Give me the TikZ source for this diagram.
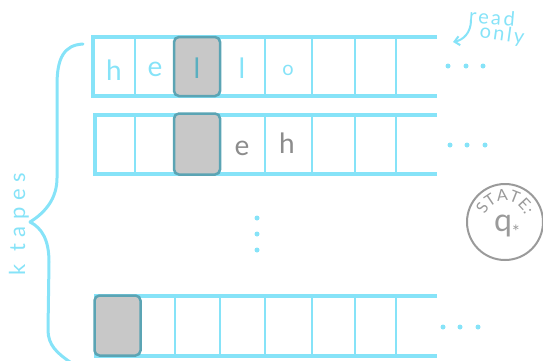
\documentclass[tikz,border=0pt]{standalone}
\usepackage{fontspec}
\setmainfont{Lato}
\usetikzlibrary{decorations.text,arrows.meta}
\definecolor{tapec}{HTML}{86E3F8}
\definecolor{headfill}{HTML}{C8C8C8}
\definecolor{headline}{HTML}{5BA4B4}
\definecolor{grayt}{HTML}{8C8C8C}
\definecolor{statec}{HTML}{9A9A9A}
\definecolor{tealt}{HTML}{5AAFC0}
\begin{document}
\begin{tikzpicture}[x=1pt,y=-1pt,
  tapeline/.style={draw=tapec,line width=3.3pt},
  divline/.style={draw=tapec,line width=2.2pt},
  headbox/.style={draw=headline,fill=headfill,line width=2.5pt,rounded corners=5pt,inner sep=0pt},
  sym/.style={font=\fontsize{28}{28}\selectfont,anchor=base,inner sep=0pt},
  dotc/.style={circle,fill=tapec,inner sep=0pt,minimum size=5pt},
  handlbl/.style={text=tapec,inner sep=0pt},
]
\useasboundingbox (0,0) rectangle (543,360);
% tapes
\foreach \t/\b/\l in {37/96/93, 115/174/95, 296/356/96} {
  \draw[tapeline] (437,\t) -- (\l,\t) -- (\l,\b) -- (437,\b);
  \foreach \x in {135,175,220,265,312,355,396} \draw[divline] (\x,\t) -- (\x,\b);
}
% heads
\node[headbox,minimum width=46pt,minimum height=59pt] (h1) at (197,66.5) {};
\node[headbox,minimum width=46pt,minimum height=61pt] (h2) at (197,144) {};
\node[headbox,minimum width=46pt,minimum height=60pt] (h3) at (117.5,325.5) {};
% symbols tape 1
\node[sym,text=tapec] (s1) at (114,80) {h};
\node[sym,text=tapec] (s2) at (155,76) {e};
\node[sym,text=tealt] (s3) at (197,78) {l};
\node[sym,text=tapec] (s4) at (242,78) {l};
\node[sym,text=tapec,font=\fontsize{20}{20}\selectfont] (s5) at (288,75) {o};
% symbols tape 2
\node[sym,text=grayt] (t4) at (242,155) {e};
\node[sym,text=grayt] (t5) at (287,153) {h};
% dots
\node[dotc] (d11) at (448,66) {};
\node[dotc] (d12) at (466,66) {};
\node[dotc] (d13) at (483,66) {};
\node[dotc] (d21) at (450,145) {};
\node[dotc] (d22) at (467,145) {};
\node[dotc] (d23) at (485,145) {};
\node[dotc] (d31) at (443,327) {};
\node[dotc] (d32) at (460,327) {};
\node[dotc] (d33) at (478,327) {};
\node[dotc] (v1) at (257,218) {};
\node[dotc] (v2) at (257,234) {};
\node[dotc] (v3) at (257,250) {};
% brace
\draw[tapec,line width=3pt,line cap=round,line join=round]
  (83,44) .. controls (64,45) and (57,58) .. (57,85) -- (57,178)
  .. controls (57,198) and (46,212) .. (30,222)
  .. controls (42,228) and (49,240) .. (49,262) -- (48,330)
  .. controls (48,345) and (57,353) .. (70,362);
\node[handlbl,rotate=90,font=\fontsize{22}{22}\selectfont] (ktapes) at (19,224) {\addfontfeature{LetterSpace=30}k tapes};
% read only
\node[handlbl,rotate=-5,font=\fontsize{20}{20}\selectfont] (ro1) at (492,17) {\addfontfeature{LetterSpace=12}read};
\node[handlbl,rotate=-8,font=\fontsize{20}{20}\selectfont] (ro2) at (502,35) {\addfontfeature{LetterSpace=12}only};
\coordinate (arrs) at (471,20);
\coordinate (arre) at (453,42);
\draw[tapec,line width=2pt,line cap=round,-{Straight Barb[length=5pt,width=9pt]}]
  (arrs) .. controls (471,33) and (463,40) .. (arre);
% state
\node[circle,draw=statec,line width=2pt,minimum size=76pt,inner sep=0pt] (st) at (505,222) {};
\node[text=statec,font=\fontsize{32}{32}\selectfont,inner sep=0pt,anchor=base] (qs) at (503,231) {q};
\node[text=statec,font=\fontsize{18}{18}\selectfont,inner sep=0pt] (qstar) at (516,232) {*};
\path[decorate,decoration={text along path,text align=center,
  text={|\fontsize{16}{16}\selectfont\color{statec}|STATE:}}]
  ([shift={(190:21)}]st.center) arc[start angle=190,end angle=350,radius=21];
\end{tikzpicture}
\end{document}
